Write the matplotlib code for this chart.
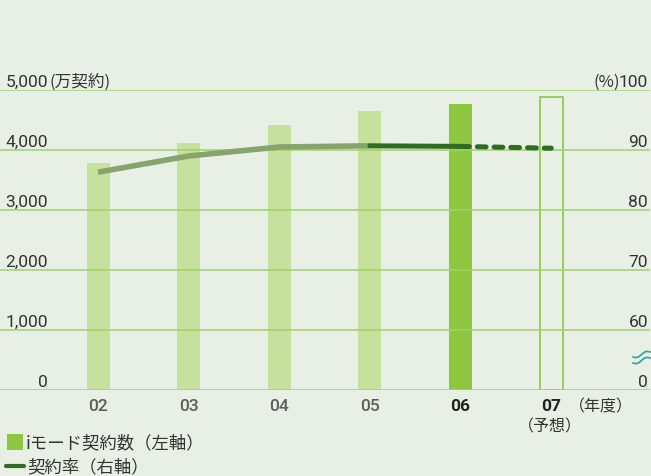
import matplotlib.pyplot as plt
import matplotlib.transforms as mtransforms
from matplotlib import font_manager
from matplotlib.patches import Rectangle
from matplotlib.lines import Line2D
import numpy as np

# data
years = ["02", "03", "04", "05", "06", "07"]
subscribers = [3780, 4110, 4420, 4650, 4770, 4890]   # 万契約 (left axis)
rate = [86.3, 89.0, 90.5, 90.7, 90.6, 90.3]          # % (right axis)
left_ticks = [0, 1000, 2000, 3000, 4000, 5000]
left_labels = ["0", "1,000", "2,000", "3,000", "4,000", "5,000"]
right_ticks = [50, 60, 70, 80, 90, 100]
right_labels = ["0", "60", "70", "80", "90", "100"]

W, H = 651, 477
names = {f.name for f in font_manager.fontManager.ttflist}
num_font = "Liberation Sans Narrow" if "Liberation Sans Narrow" in names else "Roboto"
fam = [num_font, "Noto Sans CJK JP", "DejaVu Sans"]
jfam = ["Noto Sans CJK JP", "DejaVu Sans"]

bg = "#e8efe5"
light = "#c6e09e"
mid = "#8dc63f"
grid_c = "#a3d16f"
gray_line = "#87a46c"
dark = "#2f6b20"
txt = "#333333"

fig = plt.figure(figsize=(W / 100, H / 100), dpi=100)
fig.patch.set_facecolor(bg)
ax = fig.add_axes([0, (H - 391) / H, 650 / W, 300 / H])
ax.set_facecolor("none")
ax2 = ax.twinx()
for a in (ax, ax2):
    for s in a.spines.values():
        s.set_visible(False)
    a.set_xticks([])
    a.set_yticks([])

x = np.arange(len(years))
ax.set_xlim(-1.082, 6.09)
ax.set_ylim(0, 5000)
ax2.set_ylim(50, 100)

# grid
for v in left_ticks:
    ax.axhline(v, color=grid_c, lw=1.3, zorder=3, alpha=0.85)

# bars
colors = [light] * 4 + [mid, "none"]
edges = ["none"] * 5 + [mid]
ax.bar(x, subscribers, width=0.254, color=colors, edgecolor=edges, linewidth=1.2, zorder=2)

# rate line
ax2.plot(x[:4], rate[:4], color=gray_line, lw=4.0, solid_capstyle="butt", zorder=4)
ax2.plot(x[3:5], rate[3:5], color=dark, lw=3.6, solid_capstyle="round", zorder=5)
ax2.plot(x[4:], rate[4:], color=dark, lw=3.6, dash_capstyle="round",
         linestyle=(0, (1.75, 1.6)), zorder=5)

# left tick labels
tl = mtransforms.blended_transform_factory(ax.transAxes, ax.transData)
for v, lab in zip(left_ticks, left_labels):
    ax.annotate(lab, xy=(48 / 650, v), xycoords=tl, xytext=(0, 3), textcoords="offset points",
                ha="right", va="baseline", fontsize=12.5, color=txt, family=fam)
ax.annotate("(万契約)", xy=(48 / 650, 5000), xycoords=tl, xytext=(1, 3), textcoords="offset points",
            ha="left", va="baseline", fontsize=12, color=txt, family=jfam)

# right tick labels
tr = mtransforms.blended_transform_factory(ax2.transAxes, ax2.transData)
for v, lab in zip(right_ticks, right_labels):
    ax2.annotate(lab, xy=(648 / 650, v), xycoords=tr, xytext=(0, 3), textcoords="offset points",
                 ha="right", va="baseline", fontsize=12.5, color=txt, family=fam)
ax2.annotate("(%)", xy=(620 / 650, 100), xycoords=tr, xytext=(0, 3), textcoords="offset points",
             ha="right", va="baseline", fontsize=12, color=txt, family=jfam)

# axis break mark
t = np.linspace(0, 1, 40)
for off in (0, 6):
    bx = (633 + 17 * t) / 650
    by = (391 - (358 + off - 5 * t + 1.6 * np.sin(2 * np.pi * t))) / 300
    ax2.plot(bx, by, color="#2aa39a", lw=1.2, transform=ax2.transAxes, clip_on=False, zorder=6)

# x labels
tx = mtransforms.blended_transform_factory(ax.transData, ax.transAxes)
xl_y = (391 - 407) / 300
for i, lab in enumerate(years):
    bold = i >= 4
    ax.text(x[i], xl_y, lab, transform=tx, ha="center", va="center", fontsize=12.5,
            fontweight="bold" if bold else "medium", color="#222222" if bold else "#5e5e5e", family=fam)
ax.text(601 / 650, xl_y, "（年度）", transform=ax.transAxes, ha="center", va="center",
        fontsize=11.5, color=txt, family=jfam)
ax.text(x[5] - 0.01, (391 - 427) / 300, "（予想）", transform=tx, ha="center", va="center",
        fontsize=11.5, color=txt, family=jfam)

# legend
fig.add_artist(Rectangle((7 / W, 1 - 451 / H), 16 / W, 16 / H, transform=fig.transFigure,
                         facecolor=mid, edgecolor="none"))
fig.text(26 / W, 1 - 443 / H, "iモード契約数（左軸）", ha="left", va="center",
         fontsize=12.5, color=txt, family=jfam)
fig.add_artist(Line2D([6 / W, 24 / W], [1 - 467 / H, 1 - 467 / H], transform=fig.transFigure,
                      color=dark, lw=3, solid_capstyle="round"))
fig.text(27 / W, 1 - 467 / H, "契約率（右軸）", ha="left", va="center",
         fontsize=12.5, color=txt, family=jfam)

fig.savefig("out.png", dpi=100, facecolor=bg)
